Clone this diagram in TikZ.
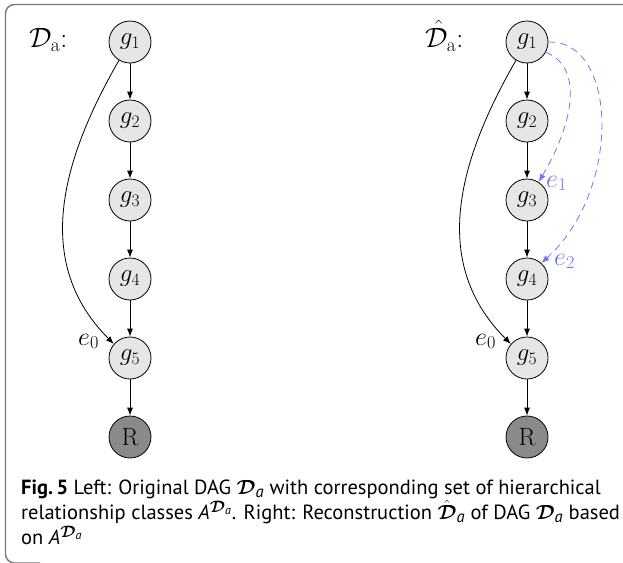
\RequirePackage{fix-cm}
\documentclass[tikz,border=0pt]{standalone}
\usepackage{amsmath}
\usepackage{bm}
\usepackage{fontspec}
\newfontfamily\capfont{PT Sans}
\usetikzlibrary{arrows.meta}
\DeclareMathSizes{20.5}{20.5}{16.5}{12}
\definecolor{frameg}{RGB}{120,120,120}
\definecolor{nodeg}{RGB}{230,230,230}
\definecolor{rootg}{RGB}{138,138,138}
\definecolor{recblue}{RGB}{115,115,255}
\tikzset{
  gnode/.style={circle, draw, fill=nodeg, minimum size=42pt, inner sep=0pt,
    line width=0.8pt, font=\fontsize{25}{30}\selectfont},
  rnode/.style={gnode, fill=rootg},
  arr/.style={line width=0.8pt, -{Latex[length=8pt,width=6pt]}},
  dsh/.style={recblue, line width=0.8pt, dash pattern=on 7pt off 5pt,
    -{Latex[length=8pt,width=6pt]}},
  lbl/.style={font=\fontsize{26}{30}\selectfont, inner sep=0pt, anchor=base west},
  title/.style={lbl, font=\fontsize{28}{32}\selectfont},
}
\begin{document}
\begin{tikzpicture}[x=1pt,y=-1pt]
\useasboundingbox (0,0) rectangle (623,562);
% frame
\draw[frameg, line width=1.4pt, rounded corners=9pt]
  (630,4.5) -- (5.5,4.5) -- (5.5,563) -- (40,563);

% left graph
\node[title] (la) at (29,47) {$\mathcal{D}_{\mathrm{a}}$:};
\node[gnode] (g1) at (130,42) {$g_1$};
\node[gnode] (g2) at (130,121) {$g_2$};
\node[gnode] (g3) at (130,200) {$g_3$};
\node[gnode] (g4) at (130,279) {$g_4$};
\node[gnode] (g5) at (130,358) {$g_5$};
\node[rnode] (gR) at (130,437) {R};
\draw[arr] (g1) -- (g2);
\draw[arr] (g2) -- (g3);
\draw[arr] (g3) -- (g4);
\draw[arr] (g4) -- (g5);
\draw[arr] (g5) -- (gR);
\draw[arr] (g1.239) .. controls (58,166) and (35,265) .. (g5.139);
\node[lbl] (e0l) at (78,345) {$e_0$};

% right graph
\node[title] (ra) at (425,47) {$\hat{\mathcal{D}}_{\mathrm{a}}$:};
\node[gnode] (h1) at (527,42) {$g_1$};
\node[gnode] (h2) at (527,121) {$g_2$};
\node[gnode] (h3) at (527,200) {$g_3$};
\node[gnode] (h4) at (527,279) {$g_4$};
\node[gnode] (h5) at (527,358) {$g_5$};
\node[rnode] (hR) at (527,437) {R};
\draw[arr] (h1) -- (h2);
\draw[arr] (h2) -- (h3);
\draw[arr] (h3) -- (h4);
\draw[arr] (h4) -- (h5);
\draw[arr] (h5) -- (hR);
\draw[arr] (h1.239) .. controls (455,166) and (432,265) .. (h5.139);
\node[lbl] (e0r) at (475,345) {$e_0$};
\draw[dsh] (h1.-29) .. controls (580,65) and (578,115) .. (h3.57);
\draw[dsh] (h1.east) .. controls (618,40) and (622,190) .. (h4.48);
\node[lbl, text=recblue] (e1) at (546,187) {$e_1$};
\node[lbl, text=recblue] (e2) at (554,265) {$e_2$};

% caption
\node[anchor=north west, align=left, inner sep=0pt,
  font=\capfont\fontsize{20.5}{25}\selectfont] (cap) at (21,480)
  {\textbf{Fig.\,5} Left: Original DAG $\bm{\mathcal{D}}_{\textit{a}}$ with corresponding set of hierarchical\\
   relationship classes \textit{A}$^{\bm{\mathcal{D}}_{\textit{a}}}$. Right: Reconstruction $\hat{\bm{\mathcal{D}}}_{\textit{a}}$ of DAG $\bm{\mathcal{D}}_{\textit{a}}$ based\\
   on \textit{A}$^{\bm{\mathcal{D}}_{\textit{a}}}$};
\end{tikzpicture}
\end{document}
